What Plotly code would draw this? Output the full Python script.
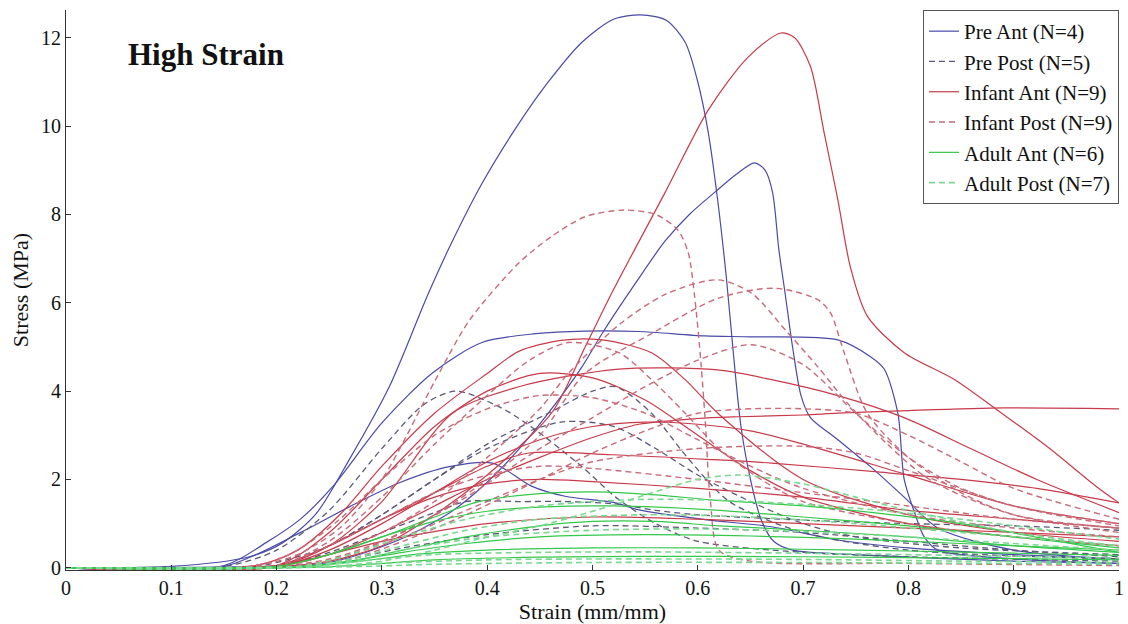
import plotly.graph_objects as go

# ---------------- data (strain, stress) ----------------
PRE_ANT_X = [
    [0, 0.1, 0.174, 0.206, 0.238, 0.269, 0.307, 0.343, 0.364, 0.395, 0.427, 0.458, 0.49, 0.52, 0.546, 0.57, 0.588, 0.6, 0.61, 0.619, 0.627, 0.634, 0.641, 0.65, 0.66, 0.672, 0.69, 0.75, 0.9, 1.0],
    [0, 0.15, 0.25, 0.316, 0.364, 0.395, 0.427, 0.458, 0.49, 0.509, 0.541, 0.569, 0.592, 0.616, 0.636, 0.654, 0.664, 0.671, 0.677, 0.683, 0.69, 0.698, 0.707, 0.733, 0.764, 0.796, 0.828, 0.9, 1.0],
    [0, 0.15, 0.19, 0.222, 0.253, 0.3, 0.348, 0.395, 0.446, 0.493, 0.544, 0.607, 0.651, 0.733, 0.764, 0.777, 0.79, 0.796, 0.806, 0.815, 0.828, 0.9, 1.0],
    [0, 0.15, 0.222, 0.269, 0.316, 0.364, 0.405, 0.442, 0.474, 0.522, 0.544, 0.607, 0.67, 0.733, 0.8, 0.9, 1.0],
]
PRE_ANT_Y = [
    [0, 0.03, 0.25, 0.57, 1.24, 2.45, 4.1, 6.15, 7.25, 8.7, 9.95, 11.0, 11.9, 12.42, 12.52, 12.4, 11.9, 11.0, 9.85, 8.3, 6.6, 4.8, 3.2, 2.0, 1.1, 0.6, 0.4, 0.3, 0.15, 0.1],
    [0, 0.02, 0.12, 0.63, 1.24, 1.83, 2.6, 3.5, 4.55, 5.3, 6.45, 7.4, 8.0, 8.5, 8.9, 9.17, 9.0, 8.5, 7.2, 6.2, 5.0, 3.9, 3.4, 2.9, 2.29, 1.6, 0.9, 0.4, 0.2],
    [0, 0.05, 0.57, 1.09, 1.83, 3.28, 4.41, 5.1, 5.3, 5.36, 5.35, 5.25, 5.23, 5.16, 4.78, 4.5, 3.5, 2.0, 1.24, 0.7, 0.4, 0.2, 0.1],
    [0, 0.03, 0.79, 1.38, 1.92, 2.29, 2.37, 1.85, 1.62, 1.47, 1.31, 1.09, 0.93, 0.63, 0.45, 0.3, 0.2],
]

PRE_POST_X = [
    [0, 0.15, 0.2, 0.25, 0.3, 0.34, 0.37, 0.411, 0.442, 0.49, 0.522, 0.56, 0.6, 0.7, 0.8, 1.0],
    [0, 0.18, 0.25, 0.3, 0.35, 0.4, 0.458, 0.5, 0.522, 0.556, 0.59, 0.63, 0.7, 0.8, 1.0],
    [0, 0.2, 0.25, 0.3, 0.35, 0.38, 0.43, 0.474, 0.52, 0.56, 0.6, 0.7, 0.8, 0.9, 1.0],
    [0, 0.2, 0.25, 0.3, 0.35, 0.4, 0.47, 0.52, 0.56, 0.6, 0.65, 0.7, 0.75, 0.85, 1.0],
    [0, 0.22, 0.27, 0.32, 0.4, 0.5, 0.6, 0.7, 0.8, 0.9, 1.0],
]
PRE_POST_Y = [
    [0, 0.03, 0.4, 1.3, 2.7, 3.7, 4.0, 3.65, 3.19, 2.29, 1.6, 1.0, 0.6, 0.35, 0.25, 0.15],
    [0, 0.03, 0.5, 1.2, 2.0, 2.8, 3.5, 4.0, 4.1, 3.5, 2.5, 1.5, 0.8, 0.4, 0.2],
    [0, 0.05, 0.35, 0.8, 1.25, 1.5, 1.5, 1.5, 1.45, 1.3, 1.2, 1.08, 1.0, 0.95, 0.85],
    [0, 0.04, 0.5, 1.2, 2.0, 2.7, 3.3, 3.2, 2.7, 2.1, 1.5, 1.0, 0.7, 0.45, 0.3],
    [0, 0.02, 0.2, 0.45, 0.75, 0.95, 0.9, 0.8, 0.6, 0.4, 0.25],
]

INF_ANT_X = [
    [0, 0.2, 0.25, 0.3, 0.35, 0.4, 0.461, 0.493, 0.52, 0.569, 0.61, 0.648, 0.679, 0.692, 0.707, 0.72, 0.733, 0.745, 0.761, 0.796, 0.844, 0.884, 0.932, 0.979, 1.0],
    [0, 0.18, 0.22, 0.26, 0.3, 0.35, 0.4, 0.43, 0.47, 0.509, 0.556, 0.588, 0.619, 0.7, 0.8, 0.9, 1.0],
    [0, 0.2, 0.25, 0.3, 0.367, 0.43, 0.525, 0.619, 0.67, 0.733, 0.796, 0.859, 0.922, 1.0],
    [0, 0.2, 0.25, 0.3, 0.35, 0.4, 0.45, 0.5, 0.544, 0.6, 0.638, 0.7, 0.733, 0.8, 0.891, 1.0],
    [0, 0.2, 0.25, 0.3, 0.35, 0.4, 0.44, 0.518, 0.613, 0.67, 0.771, 0.85, 0.922, 1.0],
    [0, 0.2, 0.25, 0.3, 0.35, 0.4, 0.45, 0.5, 0.55, 0.6, 0.65, 0.7, 0.8, 0.9, 1.0],
    [0, 0.2, 0.25, 0.3, 0.35, 0.4, 0.45, 0.5, 0.55, 0.6, 0.65, 0.7, 0.8, 0.9, 1.0],
    [0, 0.2, 0.25, 0.3, 0.35, 0.4, 0.45, 0.5, 0.6, 0.7, 0.8, 0.9, 1.0],
    [0, 0.2, 0.25, 0.3, 0.4, 0.5, 0.6, 0.7, 0.8, 0.9, 1.0],
]
INF_ANT_Y = [
    [0, 0.02, 0.15, 0.5, 1.2, 2.1, 3.5, 5.0, 6.3, 8.5, 10.37, 11.57, 12.11, 12.0, 11.35, 9.85, 8.33, 6.8, 5.7, 4.87, 4.26, 3.58, 2.74, 1.83, 1.47],
    [0, 0.05, 0.4, 1.2, 2.3, 3.5, 4.4, 4.9, 5.15, 5.16, 4.87, 4.26, 3.5, 2.0, 1.2, 0.8, 0.6],
    [0, 0.05, 0.5, 1.5, 3.5, 4.1, 4.5, 4.48, 4.26, 3.9, 3.4, 2.7, 2.0, 1.25],
    [0, 0.03, 0.3, 0.8, 1.4, 2.0, 2.5, 2.95, 3.25, 3.38, 3.42, 3.46, 3.5, 3.56, 3.62, 3.6],
    [0, 0.05, 0.5, 1.1, 1.7, 2.3, 2.6, 2.56, 2.45, 2.37, 2.17, 2.0, 1.8, 1.47],
    [0, 0.03, 0.4, 1.0, 1.7, 2.4, 2.9, 3.2, 3.3, 3.25, 3.1, 2.8, 2.1, 1.4, 1.0],
    [0, 0.05, 0.8, 2.0, 3.2, 4.0, 4.4, 4.3, 3.8, 3.0, 2.2, 1.6, 1.0, 0.7, 0.5],
    [0, 0.05, 0.5, 1.1, 1.6, 1.9, 2.0, 1.95, 1.8, 1.6, 1.3, 1.1, 0.9],
    [0, 0.05, 0.3, 0.6, 1.0, 1.15, 1.1, 1.0, 0.9, 0.8, 0.7],
]

INF_POST_X = [
    [0, 0.18, 0.22, 0.26, 0.3, 0.351, 0.383, 0.43, 0.461, 0.493, 0.53, 0.56, 0.581, 0.591, 0.597, 0.603, 0.607, 0.612, 0.62, 0.65, 0.8, 1.0],
    [0, 0.2, 0.25, 0.3, 0.35, 0.4, 0.45, 0.477, 0.525, 0.57, 0.619, 0.651, 0.683, 0.714, 0.745, 0.78, 0.82, 0.9, 1.0],
    [0, 0.2, 0.25, 0.3, 0.35, 0.4, 0.45, 0.493, 0.556, 0.619, 0.673, 0.714, 0.726, 0.739, 0.761, 0.8, 0.85, 0.9, 1.0],
    [0, 0.2, 0.25, 0.3, 0.35, 0.4, 0.44, 0.477, 0.525, 0.556, 0.588, 0.62, 0.66, 0.7, 0.8, 0.9, 1.0],
    [0, 0.22, 0.27, 0.32, 0.38, 0.45, 0.5, 0.55, 0.6, 0.651, 0.7, 0.75, 0.8, 0.85, 0.9, 1.0],
    [0, 0.22, 0.27, 0.32, 0.38, 0.45, 0.5, 0.55, 0.6, 0.65, 0.7, 0.75, 0.8, 0.85, 0.9, 1.0],
    [0, 0.18, 0.22, 0.26, 0.3, 0.35, 0.4, 0.45, 0.5, 0.55, 0.6, 0.65, 0.7, 0.8, 0.9, 1.0],
    [0, 0.2, 0.25, 0.3, 0.35, 0.4, 0.45, 0.5, 0.6, 0.7, 0.8, 0.9, 1.0],
    [0, 0.22, 0.27, 0.32, 0.38, 0.45, 0.5, 0.6, 0.7, 0.75, 0.8, 0.9, 1.0],
]
INF_POST_Y = [
    [0, 0.05, 0.3, 0.9, 2.0, 4.26, 5.6, 6.9, 7.5, 7.95, 8.1, 8.0, 7.65, 7.13, 6.14, 4.64, 3.35, 1.5, 0.4, 0.15, 0.1, 0.05],
    [0, 0.03, 0.3, 0.8, 1.5, 2.5, 3.6, 4.4, 5.5, 6.2, 6.52, 6.22, 5.39, 4.55, 3.65, 2.8, 2.0, 1.2, 0.9],
    [0, 0.03, 0.2, 0.6, 1.2, 2.0, 3.0, 4.4, 5.3, 6.1, 6.33, 6.07, 5.77, 4.87, 3.5, 2.5, 1.7, 1.2, 0.8],
    [0, 0.05, 0.6, 1.6, 2.8, 3.9, 4.7, 5.1, 4.87, 4.26, 3.5, 2.7, 2.0, 1.5, 1.0, 0.7, 0.5],
    [0, 0.03, 0.3, 0.8, 1.6, 2.7, 3.4, 4.1, 4.7, 5.05, 4.6, 3.5, 2.5, 1.8, 1.4, 1.0],
    [0, 0.03, 0.2, 0.6, 1.2, 2.0, 2.6, 3.1, 3.5, 3.6, 3.6, 3.5, 3.0, 2.4, 1.8, 1.1],
    [0, 0.05, 0.4, 1.1, 2.0, 3.0, 3.6, 3.9, 3.85, 3.5, 2.9, 2.3, 1.8, 1.2, 0.9, 0.7],
    [0, 0.05, 0.5, 1.1, 1.7, 2.1, 2.3, 2.25, 2.0, 1.7, 1.4, 1.1, 0.9],
    [0, 0.03, 0.3, 0.7, 1.3, 2.0, 2.4, 2.7, 2.75, 2.6, 2.2, 1.4, 0.95],
]

ADU_ANT_X = [
    [0, 0.2, 0.25, 0.3, 0.35, 0.392, 0.45, 0.503, 0.56, 0.613, 0.7, 0.771, 0.85, 0.92, 1.0],
    [0, 0.2, 0.25, 0.3, 0.35, 0.4, 0.455, 0.52, 0.613, 0.7, 0.8, 0.9, 1.0],
    [0, 0.22, 0.27, 0.32, 0.38, 0.45, 0.5, 0.56, 0.62, 0.7, 0.8, 0.9, 1.0],
    [0, 0.22, 0.27, 0.32, 0.38, 0.45, 0.55, 0.65, 0.75, 0.85, 1.0],
    [0, 0.22, 0.28, 0.33, 0.4, 0.5, 0.6, 0.7, 0.8, 0.9, 1.0],
    [0, 0.25, 0.3, 0.35, 0.45, 0.55, 0.7, 0.85, 1.0],
]
ADU_ANT_Y = [
    [0, 0.03, 0.3, 0.7, 1.15, 1.5, 1.68, 1.72, 1.65, 1.54, 1.4, 1.24, 1.0, 0.7, 0.35],
    [0, 0.03, 0.3, 0.7, 1.05, 1.28, 1.38, 1.4, 1.31, 1.15, 0.95, 0.7, 0.45],
    [0, 0.02, 0.15, 0.4, 0.7, 0.95, 1.05, 1.05, 0.95, 0.85, 0.7, 0.5, 0.35],
    [0, 0.02, 0.15, 0.35, 0.55, 0.7, 0.75, 0.72, 0.65, 0.55, 0.4],
    [0, 0.02, 0.15, 0.3, 0.4, 0.45, 0.45, 0.42, 0.38, 0.33, 0.28],
    [0, 0.02, 0.1, 0.18, 0.24, 0.26, 0.25, 0.22, 0.18],
]

ADU_POST_X = [
    [0, 0.25, 0.3, 0.35, 0.392, 0.45, 0.503, 0.55, 0.6, 0.64, 0.7, 0.75, 0.8, 0.9, 1.0],
    [0, 0.22, 0.27, 0.32, 0.38, 0.45, 0.55, 0.65, 0.75, 0.85, 0.95, 1.0],
    [0, 0.22, 0.27, 0.32, 0.38, 0.45, 0.55, 0.65, 0.75, 0.85, 1.0],
    [0, 0.22, 0.28, 0.33, 0.4, 0.5, 0.6, 0.7, 0.8, 0.9, 1.0],
    [0, 0.22, 0.3, 0.35, 0.45, 0.55, 0.7, 0.85, 1.0],
    [0, 0.25, 0.3, 0.4, 0.5, 0.7, 0.85, 1.0],
    [0, 0.28, 0.35, 0.5, 0.7, 1.0],
]
ADU_POST_Y = [
    [0, 0.03, 0.15, 0.4, 0.65, 0.95, 1.3, 1.65, 2.0, 2.1, 1.9, 1.6, 1.3, 0.8, 0.5],
    [0, 0.03, 0.3, 0.7, 1.1, 1.4, 1.55, 1.5, 1.35, 1.1, 0.8, 0.65],
    [0, 0.02, 0.2, 0.5, 0.85, 1.1, 1.2, 1.15, 1.0, 0.8, 0.5],
    [0, 0.02, 0.2, 0.45, 0.7, 0.85, 0.88, 0.82, 0.7, 0.55, 0.4],
    [0, 0.02, 0.2, 0.3, 0.35, 0.36, 0.33, 0.28, 0.22],
    [0, 0.02, 0.1, 0.18, 0.2, 0.19, 0.15, 0.12],
    [0, 0.03, 0.08, 0.12, 0.12, 0.08],
]

GROUP_NAMES = ["Pre Ant (N=4)", "Pre Post (N=5)", "Infant Ant (N=9)",
               "Infant Post (N=9)", "Adult Ant (N=6)", "Adult Post (N=7)"]
X_TICKS = [0, 0.1, 0.2, 0.3, 0.4, 0.5, 0.6, 0.7, 0.8, 0.9, 1.0]
X_TICK_TEXT = ["0", "0.1", "0.2", "0.3", "0.4", "0.5", "0.6", "0.7", "0.8", "0.9", "1"]
Y_TICKS = [0, 2, 4, 6, 8, 10, 12]

# ---------------- styles ----------------
groups = [
    (PRE_ANT_X, PRE_ANT_Y, dict(color="#4a4aa8", width=1.2, dash="solid")),
    (PRE_POST_X, PRE_POST_Y, dict(color="#5a5a78", width=1.3, dash="6px,4px")),
    (INF_ANT_X, INF_ANT_Y, dict(color="#c83a4a", width=1.2, dash="solid")),
    (INF_POST_X, INF_POST_Y, dict(color="#c86a78", width=1.4, dash="6px,4px")),
    (ADU_ANT_X, ADU_ANT_Y, dict(color="#33c84a", width=1.2, dash="solid")),
    (ADU_POST_X, ADU_POST_Y, dict(color="#7ad890", width=1.6, dash="6px,4px")),
]

FONT = "Liberation Serif, Times New Roman, serif"

fig = go.Figure()
for gi, (xs, ys, style) in enumerate(groups):
    for ci, (xv, yv) in enumerate(zip(xs, ys)):
        fig.add_trace(go.Scatter(
            x=xv, y=yv, mode="lines",
            line=dict(shape="spline", smoothing=0.8, **style),
            name=GROUP_NAMES[gi], legendgroup=GROUP_NAMES[gi],
            showlegend=(ci == 0), hoverinfo="skip",
        ))

fig.add_annotation(text="<b>High Strain</b>", xref="paper", yref="paper",
                   x=0.057, y=0.92, xanchor="left", yanchor="middle",
                   showarrow=False, font=dict(family=FONT, size=31, color="#111"))

fig.update_layout(
    width=1128, height=624,
    margin=dict(l=66, r=4, t=10, b=54),
    paper_bgcolor="white", plot_bgcolor="white",
    font=dict(family=FONT, size=20, color="#111"),
    showlegend=True,
    legend=dict(x=1, xanchor="right", y=1, yanchor="top",
                bgcolor="white", bordercolor="#555", borderwidth=1,
                font=dict(family=FONT, size=21, color="#111"),
                tracegroupgap=0, itemwidth=30),
    xaxis=dict(range=[0, 1], tickvals=X_TICKS, ticktext=X_TICK_TEXT,
               showline=True, linecolor="#333", linewidth=1,
               ticks="inside", ticklen=5, tickcolor="#333",
               showgrid=False, zeroline=False, ticklabeloverflow="allow",
               tickfont=dict(family=FONT, size=20),
               title=dict(text="Strain (mm/mm)", font=dict(family=FONT, size=22), standoff=2)),
    yaxis=dict(range=[-0.05, 12.63], tickvals=Y_TICKS,
               showline=True, linecolor="#333", linewidth=1,
               ticks="inside", ticklen=5, tickcolor="#333",
               showgrid=False, zeroline=False,
               tickfont=dict(family=FONT, size=20),
               title=dict(text="Stress (MPa)", font=dict(family=FONT, size=22), standoff=6)),
)

fig.write_html("out.html")
